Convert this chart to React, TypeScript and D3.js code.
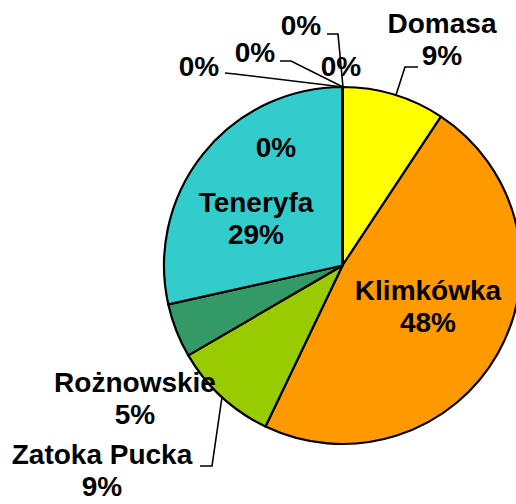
import React from "react";
import * as d3 from "d3";

const categories = ["Domasa", "Klimkówka", "Zatoka Pucka", "Rożnowskie", "Teneryfa", "z1", "z2", "z3", "z4", "z5"];
const values = [9.3, 47.8, 9.5, 4.9, 28.5, 0, 0, 0, 0, 0];
const percentLabels = ["9%", "48%", "9%", "5%", "29%", "0%", "0%", "0%", "0%", "0%"];
const showNames = [true, true, true, true, true, false, false, false, false, false];
const colors = ["#FFFF00", "#FF9900", "#99CC00", "#339966", "#33CCCC", "#FFFFFF", "#FFFFFF", "#FFFFFF", "#FFFFFF", "#FFFFFF"];

// label layout (anchor centre x, first baseline y)
const labelPos: [number, number][] = [
  [442, 33],
  [428, 300],
  [102, 464],
  [135, 392],
  [256, 212],
  [276, 157],
  [341, 76],
  [199, 76],
  [255, 62],
  [301, 35],
];

// leader lines (paths as point lists) for labels placed outside
const leaders: ([number, number][] | null)[] = [
  [[396, 95], [405, 67], [418, 67]],
  null,
  [[222, 397], [212, 466], [200, 466]],
  null,
  null,
  null,
  null,
  [[343, 87], [235, 74], [225, 73]],
  [[343, 87], [291, 61], [280, 61]],
  [[343, 87], [338, 34], [327, 34]],
];

export default function App() {
  const width = 516;
  const height = 504;
  const cx = 342.5;
  const cy = 265.5;
  const r = 178.5;
  const pie = d3.pie<number>().sort(null).value((d) => d);
  const arcs = pie(values);
  const arc = d3.arc<d3.PieArcDatum<number>>().innerRadius(0).outerRadius(r);
  const line = d3.line();
  const fontSize = 28;
  const lh = 32;

  return (
    <svg width={width} height={height} style={{ position: "absolute", left: 0, top: 0 }}>
      <rect width={width} height={height} fill="#fff" />
      <g transform={`translate(${cx},${cy})`}>
        {arcs.map((a, i) =>
          a.value > 0 ? (
            <path key={i} d={arc(a) || ""} fill={colors[i]} stroke="#000" strokeWidth={2.2} strokeLinejoin="round" />
          ) : (
            <line key={i} x1={0} y1={0} x2={0} y2={-r} stroke="#000" strokeWidth={2.2} />
          )
        )}
      </g>
      {leaders.map((pts, i) =>
        pts ? <path key={"l" + i} d={line(pts) || ""} fill="none" stroke="#000" strokeWidth={1.6} /> : null
      )}
      {categories.map((c, i) => {
        const [x, y] = labelPos[i];
        return (
          <text
            key={"t" + i}
            x={x}
            y={y}
            textAnchor="middle"
            fontFamily="'Liberation Sans', Arial, sans-serif"
            fontWeight="bold"
            fontSize={fontSize}
            fill="#000"
          >
            {showNames[i] ? (
              <>
                <tspan x={x} dy={0}>{c}</tspan>
                <tspan x={x} dy={lh}>{percentLabels[i]}</tspan>
              </>
            ) : (
              <tspan x={x}>{percentLabels[i]}</tspan>
            )}
          </text>
        );
      })}
    </svg>
  );
}
